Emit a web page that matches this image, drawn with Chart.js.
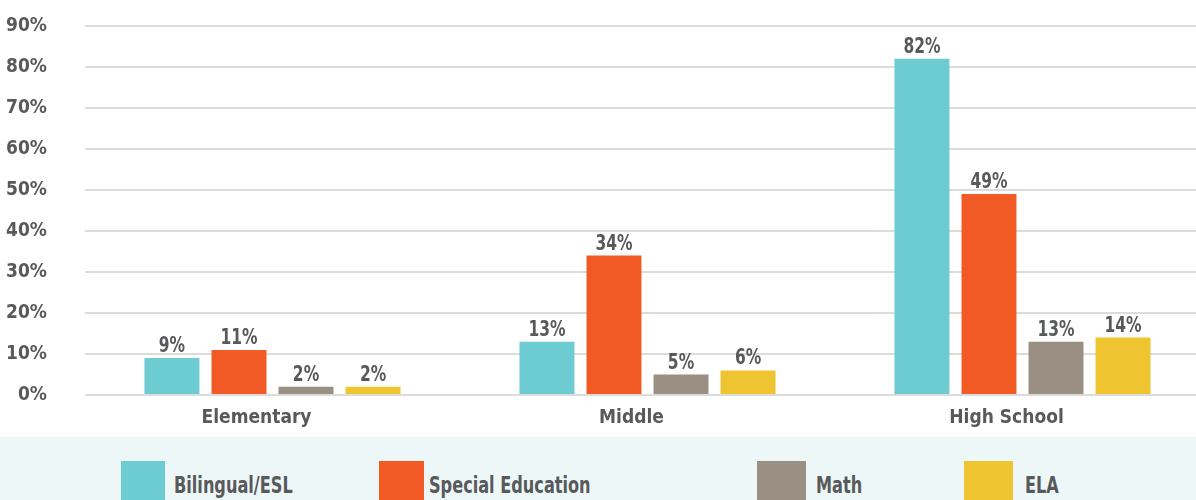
<!DOCTYPE html>
<html>
<head>
<meta charset="utf-8">
<script src="https://cdn.jsdelivr.net/npm/chart.js@4/dist/chart.umd.min.js"></script>
<style>
  html, body { margin: 0; padding: 0; background: #ffffff; }
  body { width: 1196px; height: 500px; overflow: hidden; position: relative;
         font-family: "DejaVu Sans Condensed", "Roboto", sans-serif; }
  #plot { position: absolute; left: 0; top: 0; width: 1210px; height: 437px; }
  #legend { position: absolute; left: 0; top: 437px; width: 1196px; height: 63px;
            background: #eef7f8; overflow: hidden; }
  .swatch { position: absolute; top: 24px; height: 45px; }
  .entry { position: absolute; top: 33px; font-weight: bold; font-size: 23px;
           color: #58595b; line-height: 30px; white-space: nowrap;
           transform: scaleX(0.78); transform-origin: left center; }
</style>
</head>
<body>
<div id="plot"><canvas id="chart"></canvas></div>
<div id="legend"></div>
<script>
// School levels along the x axis
const categories = ['Elementary', 'Middle', 'High School'];

// Share of schools reporting shortages, per subject area (%)
const bilingualEsl = [9, 13, 82];
const specialEducation = [11, 34, 49];
const math = [2, 5, 13];
const ela = [2, 6, 14];

const seriesNames = ['Bilingual/ESL', 'Special Education', 'Math', 'ELA'];
const seriesColors = ['#6dcbd2', '#f15a24', '#998f82', '#eec431'];

// Y axis range and step, labelled as percentages
const yMin = 0;
const yMax = 90;
const yStep = 10;

const FONT_FAMILY = '"DejaVu Sans Condensed", "Roboto", sans-serif';
const TEXT_COLOR = '#58595b';
const GRID_COLOR = '#dcdcdc';

const seriesValues = [bilingualEsl, specialEducation, math, ela];

// Writes each bar's value just above it, slightly narrowed
const valueLabels = {
  id: 'valueLabels',
  afterDatasetsDraw(chart) {
    const ctx = chart.ctx;
    const squeeze = 0.82;
    chart.data.datasets.forEach((ds, i) => {
      chart.getDatasetMeta(i).data.forEach((bar, j) => {
        ctx.save();
        ctx.font = 'bold 21px ' + FONT_FAMILY;
        ctx.fillStyle = TEXT_COLOR;
        ctx.textAlign = 'center';
        ctx.textBaseline = 'alphabetic';
        ctx.translate(bar.x, bar.y - 6);
        ctx.scale(squeeze, 1);
        ctx.fillText(ds.data[j] + '%', 0, 0);
        ctx.restore();
      });
    });
  }
};

new Chart(document.getElementById('chart'), {
  type: 'bar',
  data: {
    labels: categories,
    datasets: seriesNames.map((name, i) => ({
      label: name,
      data: seriesValues[i],
      backgroundColor: seriesColors[i],
      borderWidth: 0,
      categoryPercentage: 0.715,
      barPercentage: 0.82
    }))
  },
  options: {
    responsive: true,
    maintainAspectRatio: false,
    animation: false,
    layout: { padding: { top: 26, right: 0, bottom: 0, left: 0 } },
    plugins: {
      legend: { display: false },
      tooltip: { enabled: false }
    },
    scales: {
      x: {
        grid: { display: false, drawTicks: false },
        border: { display: false },
        ticks: {
          color: TEXT_COLOR,
          font: { family: FONT_FAMILY, size: 19, weight: 'bold' },
          padding: 12,
          labelOffset: -16
        },
        afterFit(scale) { scale.height = 42; }
      },
      y: {
        min: yMin,
        max: yMax,
        grid: { color: GRID_COLOR, lineWidth: 2, drawTicks: false },
        border: { display: false },
        ticks: {
          stepSize: yStep,
          color: TEXT_COLOR,
          font: { family: FONT_FAMILY, size: 19, weight: 'bold' },
          padding: 38,
          callback: (v) => v + '%'
        },
        afterFit(scale) {
          // the tick gap should only push labels sideways, not shrink the plot
          scale.width = 85;
          scale.paddingTop = 0;
          scale.paddingBottom = 0;
        }
      }
    }
  },
  plugins: [valueLabels]
});

// Legend strip along the bottom
const legendSlots = [
  { box: 121, boxW: 44, text: 174 },
  { box: 379, boxW: 45, text: 429 },
  { box: 757, boxW: 49, text: 816 },
  { box: 964, boxW: 49, text: 1025 }
];
const legend = document.getElementById('legend');
seriesNames.forEach((name, i) => {
  const sw = document.createElement('div');
  sw.className = 'swatch';
  sw.style.left = legendSlots[i].box + 'px';
  sw.style.width = legendSlots[i].boxW + 'px';
  sw.style.background = seriesColors[i];
  legend.appendChild(sw);
  const tx = document.createElement('div');
  tx.className = 'entry';
  tx.style.left = legendSlots[i].text + 'px';
  tx.textContent = name;
  legend.appendChild(tx);
});
</script>
</body>
</html>
